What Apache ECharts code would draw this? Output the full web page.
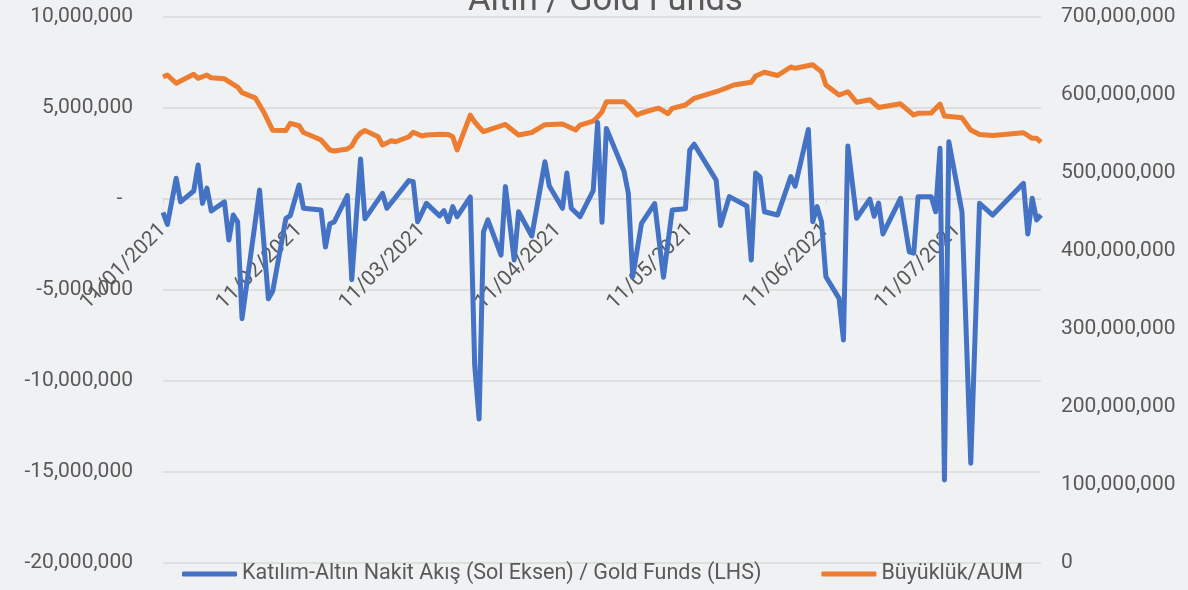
<!DOCTYPE html>
<html>
<head>
<meta charset="utf-8">
<script src="https://cdn.jsdelivr.net/npm/echarts@6/dist/echarts.min.js"></script>
<style>
html,body{margin:0;padding:0;background:#f0f1f3;}
#chart{width:1188px;height:590px;}
</style>
</head>
<body>
<div id="chart"></div>
<script>
const titleText = 'Altın / Gold Funds';
const flowName = 'Katılım-Altın Nakit Akış (Sol Eksen) / Gold Funds (LHS)';
const aumName = 'Büyüklük/AUM';

const flowDates = ['2021-01-11','2021-01-12','2021-01-14','2021-01-15','2021-01-18','2021-01-19','2021-01-20','2021-01-21','2021-01-22','2021-01-25','2021-01-26','2021-01-27','2021-01-28','2021-01-29','2021-02-02','2021-02-04','2021-02-05','2021-02-08','2021-02-09','2021-02-11','2021-02-12','2021-02-16','2021-02-17','2021-02-18','2021-02-19','2021-02-22','2021-02-23','2021-02-25','2021-02-26','2021-03-02','2021-03-03','2021-03-08','2021-03-09','2021-03-10','2021-03-12','2021-03-15','2021-03-16','2021-03-17','2021-03-18','2021-03-19','2021-03-22','2021-03-23','2021-03-24','2021-03-25','2021-03-26','2021-03-29','2021-03-30','2021-04-01','2021-04-02','2021-04-05','2021-04-08','2021-04-09','2021-04-12','2021-04-13','2021-04-14','2021-04-16','2021-04-19','2021-04-20','2021-04-21','2021-04-22','2021-04-26','2021-04-27','2021-04-28','2021-04-30','2021-05-03','2021-05-05','2021-05-07','2021-05-10','2021-05-11','2021-05-12','2021-05-17','2021-05-18','2021-05-20','2021-05-24','2021-05-25','2021-05-26','2021-05-27','2021-05-28','2021-05-31','2021-06-03','2021-06-04','2021-06-07','2021-06-08','2021-06-09','2021-06-10','2021-06-11','2021-06-14','2021-06-15','2021-06-16','2021-06-18','2021-06-21','2021-06-22','2021-06-23','2021-06-24','2021-06-28','2021-06-30','2021-07-01','2021-07-02','2021-07-05','2021-07-06','2021-07-07','2021-07-08','2021-07-09','2021-07-12','2021-07-14','2021-07-16','2021-07-19','2021-07-26','2021-07-27','2021-07-28','2021-07-29','2021-07-30'];
const flowValues = [-740000,-1400000,1140000,-160000,440000,1870000,-240000,600000,-660000,-160000,-2250000,-880000,-1250000,-6580000,490000,-5480000,-5050000,-1060000,-910000,770000,-510000,-600000,-2640000,-1360000,-1260000,190000,-4430000,2200000,-1090000,310000,-510000,1010000,950000,-1250000,-240000,-930000,-640000,-1250000,-420000,-970000,110000,-9120000,-12090000,-1800000,-1150000,-3080000,680000,-3350000,-700000,-2030000,2050000,710000,-510000,1430000,-510000,-970000,460000,4200000,-1280000,3880000,1540000,310000,-4270000,-1340000,-250000,-4300000,-600000,-540000,2690000,3010000,1040000,-1460000,130000,-380000,-3350000,1430000,1210000,-700000,-880000,1230000,700000,3820000,-1250000,-420000,-1250000,-4270000,-5460000,-7750000,2910000,-1060000,-10000,-950000,-220000,-1920000,40000,-2900000,-2980000,130000,130000,-700000,2790000,-15440000,3150000,-700000,-14520000,-240000,-880000,860000,-1920000,40000,-1150000,-880000];

const aumDates = ['2021-01-11','2021-01-12','2021-01-14','2021-01-18','2021-01-19','2021-01-21','2021-01-22','2021-01-25','2021-01-28','2021-01-29','2021-02-01','2021-02-03','2021-02-05','2021-02-08','2021-02-09','2021-02-11','2021-02-12','2021-02-15','2021-02-16','2021-02-18','2021-02-19','2021-02-22','2021-02-23','2021-02-24','2021-02-25','2021-02-26','2021-03-01','2021-03-02','2021-03-04','2021-03-05','2021-03-08','2021-03-09','2021-03-11','2021-03-12','2021-03-15','2021-03-17','2021-03-18','2021-03-19','2021-03-22','2021-03-23','2021-03-24','2021-03-25','2021-03-30','2021-04-02','2021-04-05','2021-04-08','2021-04-12','2021-04-15','2021-04-16','2021-04-19','2021-04-20','2021-04-21','2021-04-22','2021-04-26','2021-04-27','2021-04-29','2021-04-30','2021-05-03','2021-05-04','2021-05-06','2021-05-07','2021-05-10','2021-05-12','2021-05-17','2021-05-20','2021-05-21','2021-05-25','2021-05-26','2021-05-28','2021-05-31','2021-06-03','2021-06-04','2021-06-08','2021-06-09','2021-06-10','2021-06-11','2021-06-14','2021-06-16','2021-06-18','2021-06-21','2021-06-23','2021-06-28','2021-07-01','2021-07-02','2021-07-05','2021-07-07','2021-07-08','2021-07-12','2021-07-14','2021-07-16','2021-07-19','2021-07-26','2021-07-28','2021-07-29','2021-07-30'];
const aumValues = [623300000,625600000,615000000,626600000,621400000,625600000,622000000,620700000,610200000,603000000,596400000,577500000,554700000,554500000,563700000,560600000,551900000,544900000,542300000,529500000,528200000,530700000,534600000,544900000,551300000,554500000,546500000,535900000,541400000,540100000,546500000,552300000,547400000,548700000,549600000,549300000,546500000,529500000,574300000,565400000,559000000,552900000,562200000,548700000,551900000,561900000,562800000,555100000,561500000,566600000,571800000,578400000,591400000,591400000,586500000,574300000,576900000,582000000,582900000,576000000,582900000,587200000,595700000,604200000,610500000,612800000,616400000,624300000,629200000,625000000,635900000,634200000,638800000,634200000,629900000,612800000,600000000,604200000,590700000,594000000,584000000,588700000,574300000,576500000,576900000,588400000,573000000,570700000,555100000,549300000,548100000,551600000,544500000,544500000,539700000];

const monthTicks = ['2021-01-11','2021-02-11','2021-03-11','2021-04-11','2021-05-11','2021-06-11','2021-07-11'];
const leftTicks = [-20000000,-15000000,-10000000,-5000000,0,5000000,10000000];
const rightTicks = [0,100000000,200000000,300000000,400000000,500000000,600000000,700000000];

function ts(s){ const p = s.split('-').map(Number); return Date.UTC(p[0], p[1]-1, p[2]); }
function pad(n){ return (n<10?'0':'')+n; }
function fmtNum(v){ return Math.round(v).toLocaleString('en-US'); }

const FONT = 'Roboto, "Liberation Sans", sans-serif';
const TXT = '#595959';
const GRID_TOP = 17, GRID_BOTTOM = 27, H = 590;
const plotH = H - GRID_TOP - GRID_BOTTOM;
// x axis sits at the left axis's zero line
const zeroOffset = -plotH * (0 - leftTicks[0]) / (leftTicks[leftTicks.length-1] - leftTicks[0]);

const chart = echarts.init(document.getElementById('chart'), null, {renderer:'canvas'});
chart.setOption({
  backgroundColor: '#f0f1f3',
  animation: false,
  title: {
    text: titleText, left: 463, top: -21,
    textStyle: {fontFamily: FONT, fontSize: 34.5, fontWeight: 'normal', color: TXT}
  },
  legend: {
    data: [flowName, aumName],
    bottom: 0, left: 177,
    itemWidth: 55, itemHeight: 5, itemGap: 60,
    icon: 'roundRect',
    textStyle: {fontFamily: FONT, fontSize: 21.5, color: TXT}
  },
  grid: {left: 163, right: 147, top: GRID_TOP, bottom: GRID_BOTTOM, containLabel: false, outerBoundsMode: 'none'},
  xAxis: {
    type: 'value',
    min: ts(flowDates[0]), max: ts(flowDates[flowDates.length-1]),
    offset: zeroOffset,
    axisLine: {onZero: false, lineStyle: {color: '#d9d9d9', width: 1.5}},
    axisTick: {show: true, length: 5, lineStyle: {color: '#d9d9d9'}, customValues: monthTicks.map(ts)},
    splitLine: {show: false},
    axisLabel: {
      customValues: monthTicks.map(ts),
      rotate: 45, margin: 28,
      fontFamily: FONT, fontSize: 21, color: TXT,
      formatter: function(v){ const d = new Date(v); return pad(d.getUTCDate())+'/'+pad(d.getUTCMonth()+1)+'/'+d.getUTCFullYear(); }
    }
  },
  yAxis: [{
    type: 'value', min: leftTicks[0], max: leftTicks[leftTicks.length-1], interval: 5000000,
    axisLine: {show: false}, axisTick: {show: false},
    splitLine: {lineStyle: {color: '#d9d9d9', width: 1.5}},
    axisLabel: {margin: 30, fontFamily: FONT, fontSize: 21, color: TXT,
      formatter: function(v){ return v === 0 ? '-\u2002' : fmtNum(v); }}
  },{
    type: 'value', min: rightTicks[0], max: rightTicks[rightTicks.length-1], interval: 100000000,
    axisLine: {show: false}, axisTick: {show: false}, splitLine: {show: false},
    axisLabel: {margin: 20, fontFamily: FONT, fontSize: 21, color: TXT,
      formatter: function(v){ return fmtNum(v); }}
  }],
  series: [{
    name: flowName, type: 'line', yAxisIndex: 0,
    data: flowDates.map((d,i)=>[ts(d), flowValues[i]]),
    showSymbol: false, symbol: 'none',
    lineStyle: {color: '#4472c4', width: 5, join: 'round'},
    itemStyle: {color: '#4472c4'}, z: 3
  },{
    name: aumName, type: 'line', yAxisIndex: 1,
    data: aumDates.map((d,i)=>[ts(d), aumValues[i]]),
    showSymbol: false, symbol: 'none',
    lineStyle: {color: '#ed7d31', width: 5, join: 'round'},
    itemStyle: {color: '#ed7d31'}, z: 2
  }]
});
</script>
</body>
</html>
